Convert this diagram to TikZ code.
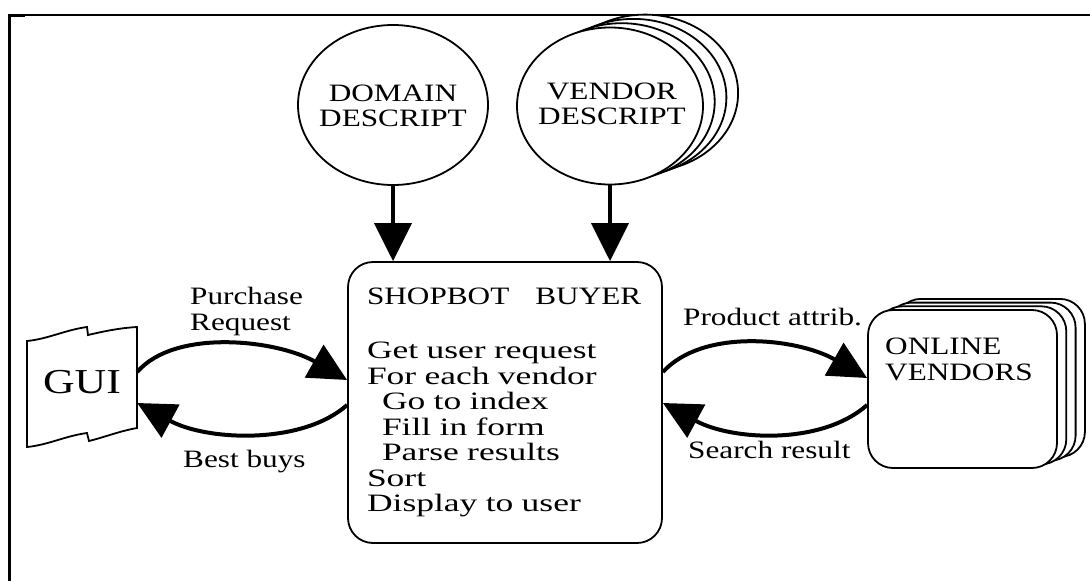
\documentclass[tikz,border=0pt]{standalone}
\usepackage{fontspec}
\newfontfamily\dfont[FakeStretch=1.25]{Liberation Serif}
\newfontfamily\wfont[FakeStretch=1.42]{Liberation Serif}
\usetikzlibrary{arrows.meta,shapes.geometric}
\begin{document}
\begin{tikzpicture}[x=1pt,y=-1pt,
  lbl/.style={font=\dfont\fontsize{25}{25.5}\selectfont, inner sep=0pt, align=left},
  ctext/.style={font=\dfont\fontsize{25}{25.5}\selectfont, inner sep=0pt, align=center},
  thinline/.style={line width=1.8pt},
  flow/.style={line width=4pt, -{Triangle[length=38pt,width=37pt]}},
  bubble/.style={ellipse, draw, line width=1.8pt, fill=white, inner sep=0pt},
  vbox/.style={draw, line width=1.8pt, fill=white, rounded corners=25pt,
    minimum width=189pt, minimum height=158pt, inner sep=0pt},
]
\useasboundingbox (0,0) rectangle (1090,581);
% frame
\draw[line width=2pt] (8,15) -- (1090,15);
\draw[line width=3pt] (8,15) -- (25,15);
\draw[line width=3pt] (9,14) -- (9,581);

% domain description
\node[bubble, minimum width=190pt, minimum height=160pt] (dom) at (393,105) {};
\node[ctext] (domt) at (393,106) {DOMAIN\\DESCRIPT};

% vendor description stack
\foreach \k in {3,2,1}
  \node[bubble, minimum width=186pt, minimum height=157pt] (vd\k) at ({610+11.7*\k},{106-4.3*\k}) {};
\node[bubble, minimum width=186pt, minimum height=157pt] (vd) at (610,106) {};
\node[ctext] (vdt) at (612,104) {VENDOR\\DESCRIPT};

% shopbot buyer
\node[draw, line width=1.8pt, rounded corners=25pt, minimum width=314pt, minimum height=281pt,
  inner xsep=19pt, inner ysep=0pt, text width=276pt, align=left,
  font=\dfont\fontsize{25}{25.5}\selectfont] (shop) at (505,402.5)
  {SHOPBOT\hspace{26pt}BUYER\\[29pt]
   {\wfont Get user request}\\
   {\wfont For each vendor}\\
   \hspace*{15pt}{\wfont Go to index}\\
   \hspace*{15pt}{\wfont Fill in form}\\
   \hspace*{15pt}{\wfont Parse results}\\
   {\wfont Sort}\\
   {\wfont Display to user}};

% GUI
\draw[thinline, line join=miter] (27,341) .. controls (48,339) and (65,330) .. (87,327) -- (88,335)
  .. controls (105,331) and (120,328) .. (137,327) -- (137,428)
  .. controls (120,431) and (105,437) .. (89,441) -- (87,433)
  .. controls (65,436) and (48,445) .. (27,447) -- cycle;
\node[minimum width=110pt, minimum height=106pt, inner sep=0pt,
  font=\dfont\fontsize{35}{36}\selectfont] (gui) at (82,382) {GUI};

% online vendors stack
\foreach \k in {3,2,1}
  \node[vbox] (ov\k) at ({962.5+9.3*\k},{389-3.7*\k}) {};
\node[vbox] (ov) at (962.5,389) {};
\node[lbl, anchor=base west] (ovt) at (885,380) {ONLINE\\VENDORS};

% vertical arrows
\draw[flow] (dom.south) -- (dom.south |- shop.north);
\draw[flow] (vd.south) -- (vd.south |- shop.north);

% GUI <-> shopbot
\draw[flow] ([yshift=10pt]gui.east) .. controls +(38,-44) and +(-70,-40) .. ([yshift=22.5pt]shop.west);
\draw[flow] ([yshift=-2.5pt]shop.west) .. controls +(-45,40) and +(70,38) .. ([yshift=-21pt]gui.east);

% shopbot <-> vendors
\draw[flow] ([yshift=30.5pt]shop.east) .. controls +(40,-44) and +(-70,-40) .. ([yshift=11pt]ov.west);
\draw[flow] ([yshift=-16pt]ov.west) .. controls +(-45,40) and +(70,38) .. ([yshift=-0.5pt]shop.east);

% labels
\node[lbl, anchor=base west] (lpr) at (190,330) {Purchase\\Request};
\node[lbl, anchor=base west] (lbb) at (183,467) {Best buys};
\node[lbl, anchor=base west] (lpa) at (683,325) {Product attrib.};
\node[lbl, anchor=base west] (lsr) at (688,458) {Search result};
\end{tikzpicture}
\end{document}
